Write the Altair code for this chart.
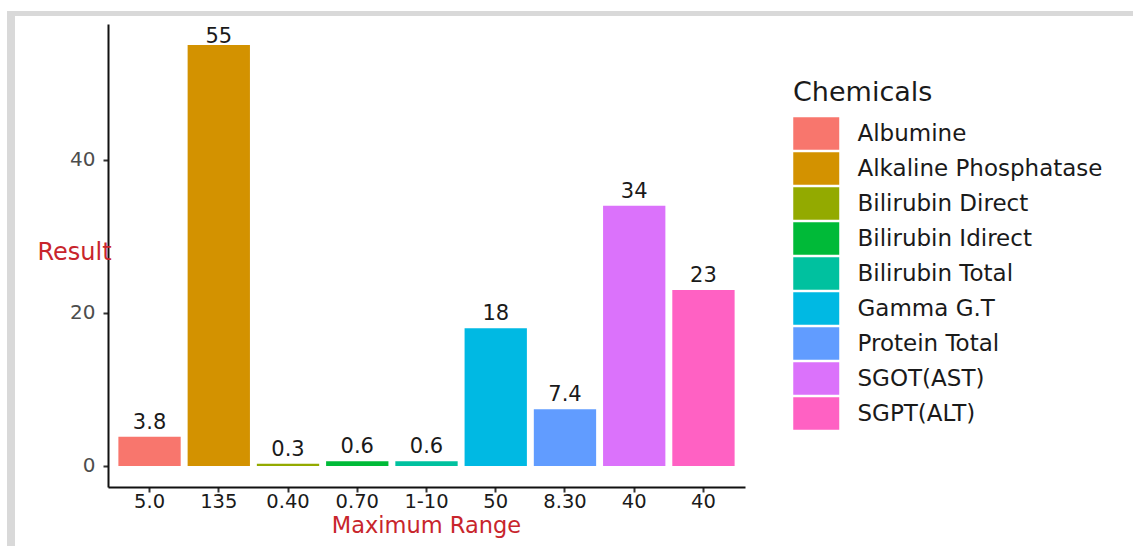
import altair as alt
import pandas as pd

# Liver panel results, one bar per chemical
chemicals = [
    "Albumine", "Alkaline Phosphatase", "Bilirubin Direct", "Bilirubin Idirect",
    "Bilirubin Total", "Gamma G.T", "Protein Total", "SGOT(AST)", "SGPT(ALT)",
]
results = [3.8, 55, 0.3, 0.6, 0.6, 18, 7.4, 34, 23]
max_range = ["5.0", "135", "0.40", "0.70", "1-10", "50", "8.30", "40", "40"]
palette = ["#F8766D", "#D39200", "#93AA00", "#00BA38", "#00C19F",
           "#00B9E3", "#619CFF", "#DB72FB", "#FF61C3"]

df = pd.DataFrame({"Chemical": chemicals, "Result": results, "Range": max_range})

FONT = "DejaVu Sans"
RED = "#C8252C"

names_js = "[" + ",".join(f"'{c}'" for c in chemicals) + "]"
ranges_js = "[" + ",".join(f"'{r}'" for r in max_range) + "]"

x_enc = alt.X(
    "Chemical:N",
    sort=chemicals,
    scale=alt.Scale(paddingInner=0.1, paddingOuter=0.15),
    axis=alt.Axis(
        title="Maximum Range",
        labelExpr=f"{ranges_js}[indexof({names_js}, datum.value)]",
        labelAngle=0,
        labelFont=FONT, labelFontSize=19.5, labelColor="#1a1a1a", labelPadding=0,
        tickSize=5, tickWidth=2, tickColor="#333333",
        domainColor="#111111", domainWidth=2,
        titleFont=FONT, titleFontSize=22.5, titleFontWeight="normal", titleColor=RED,
        titleX=318, titleY=38, titleBaseline="middle", titleAlign="center",
        grid=False,
    ),
)
y_scale = alt.Scale(domain=[-2.75, 57.75], nice=False, zero=False)
y_enc = alt.Y(
    "Result:Q",
    scale=y_scale,
    axis=alt.Axis(
        title="Result", values=[0, 20, 40],
        labelFont=FONT, labelFontSize=20, labelColor="#4d4d4d", labelPadding=8,
        tickSize=5, tickWidth=2, tickColor="#333333",
        domainColor="#111111", domainWidth=2,
        titleFont=FONT, titleFontSize=24, titleFontWeight="normal", titleColor=RED,
        titleAngle=0, titleX=-34, titleY=228, titleAlign="center", titleBaseline="middle",
        grid=False,
    ),
)

# wide rectangular legend keys, left-aligned with the legend title:
# the path spans 2.83 x 2 units, scaled by sqrt(symbolSize) / 2
color_enc = alt.Color(
    "Chemical:N",
    sort=chemicals,
    scale=alt.Scale(domain=chemicals, range=palette),
    legend=alt.Legend(
        title="Chemicals", orient="none", legendX=685, legendY=56,
        titleFont=FONT, titleFontSize=27, titleFontWeight="normal", titleColor="#1a1a1a",
        titlePadding=10,
        labelFont=FONT, labelFontSize=23, labelColor="#1a1a1a", labelOffset=31.5,
        labelLimit=400,
        symbolType="M-1,-1H1.83V1H-1Z", symbolSize=1056, symbolStrokeWidth=0,
        symbolOpacity=1, rowPadding=2, padding=0,
    ),
)

base = alt.Chart(df)

bars = base.mark_bar().encode(
    x=x_enc, y=y_enc, y2=alt.datum(0), color=color_enc,
)

label_enc = dict(
    x=alt.X("Chemical:N", sort=chemicals),
    y=alt.Y("Result:Q", scale=y_scale),
    text=alt.Text("Result:Q"),
)
text_style = dict(baseline="alphabetic", font=FONT, fontSize=21, color="#1a1a1a")

# value labels; the tallest bar's label sits closer to its bar
labels_low = base.transform_filter("datum.Result <= 50").mark_text(
    dy=-8, **text_style
).encode(**label_enc)
labels_high = base.transform_filter("datum.Result > 50").mark_text(
    dy=-2, **text_style
).encode(**label_enc)

# light grey frame along the top and left edges
frame_data = alt.Data(values=[{"k": 0}])
frame_top = alt.Chart(frame_data).mark_rule(color="#d9d9d9", strokeWidth=5).encode(
    x=alt.value(-101), x2=alt.value(1025), y=alt.value(-10.5)
)
frame_left = alt.Chart(frame_data).mark_rule(color="#d9d9d9", strokeWidth=8).encode(
    x=alt.value(-97), y=alt.value(-13), y2=alt.value(522)
)

chart = alt.layer(frame_top, frame_left, bars, labels_low, labels_high).properties(
    width=637, height=463,
    padding={"left": 108, "top": 24, "right": 388, "bottom": 59},
    autosize=alt.AutoSizeParams(type="none"),
    background="white",
).configure_view(stroke=None)

chart.save("out.html", embed_options={"renderer": "svg", "actions": False})
